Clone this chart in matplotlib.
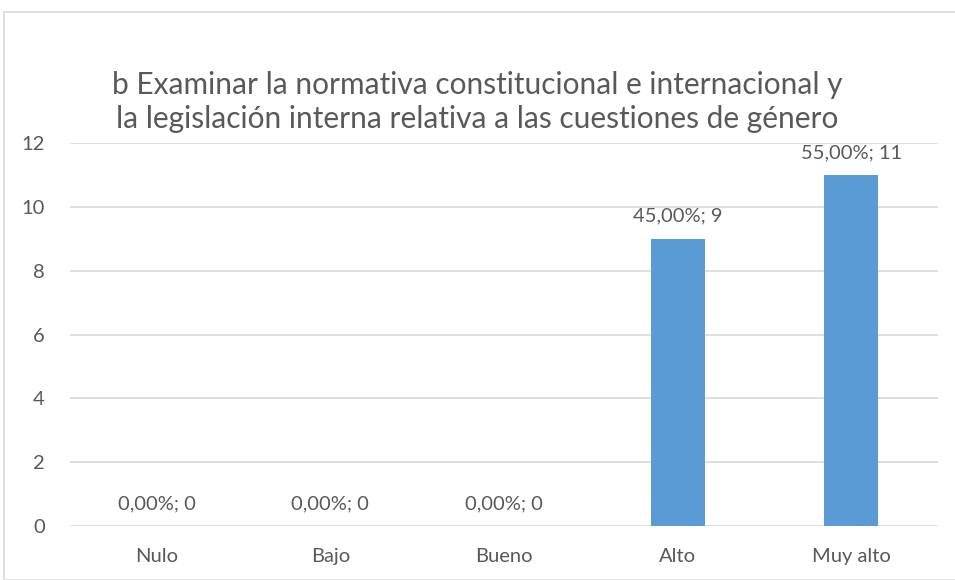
import matplotlib.pyplot as plt
from matplotlib.patches import Rectangle

# datos
categorias = ["Nulo", "Bajo", "Bueno", "Alto", "Muy alto"]
valores = [0, 0, 0, 9, 11]
porcentajes = ["0,00%", "0,00%", "0,00%", "45,00%", "55,00%"]
titulo = ("b Examinar la normativa constitucional e internacional y\n"
          "la legislación interna relativa a las cuestiones de género")

plt.rcParams["font.family"] = ["Lato", "DejaVu Sans"]
gris = "#595959"

fig = plt.figure(figsize=(9.55, 5.8), dpi=100)
ax = fig.add_axes([70 / 955, 1 - 526 / 580, 868 / 955, 383 / 580])

x = range(len(categorias))
ax.bar(x, valores, width=0.31, color="#5b9bd5", zorder=3)
for i, v in enumerate(valores):
    ax.annotate(f"{porcentajes[i]}; {v}", (i, v), xytext=(0, 10),
                textcoords="offset points", ha="center", va="bottom",
                fontsize=14.5, color=gris)

ax.set_xlim(-0.5, len(categorias) - 0.5)
ax.set_ylim(0, 12)
ax.set_yticks(range(0, 13, 2))
ax.set_xticks(list(x))
ax.set_xticklabels(categorias)
ax.yaxis.grid(True, color="#d9d9d9", linewidth=1.2, zorder=0)
for s in ax.spines.values():
    s.set_visible(False)
ax.tick_params(length=0, labelsize=14.5, labelcolor=gris)
ax.tick_params(axis="y", pad=18)
ax.tick_params(axis="x", pad=16)

fig.text(0.5, 1 - 102 / 580, titulo, ha="center", va="center",
         fontsize=21.5, color=gris, linespacing=1.3)

# borde del gráfico
fig.patches.append(Rectangle((4 / 955, 0), 1, 1 - 12 / 580,
                             transform=fig.transFigure, fill=False,
                             edgecolor="#d9d9d9", linewidth=1.2))

fig.savefig("out.png", dpi=100)
